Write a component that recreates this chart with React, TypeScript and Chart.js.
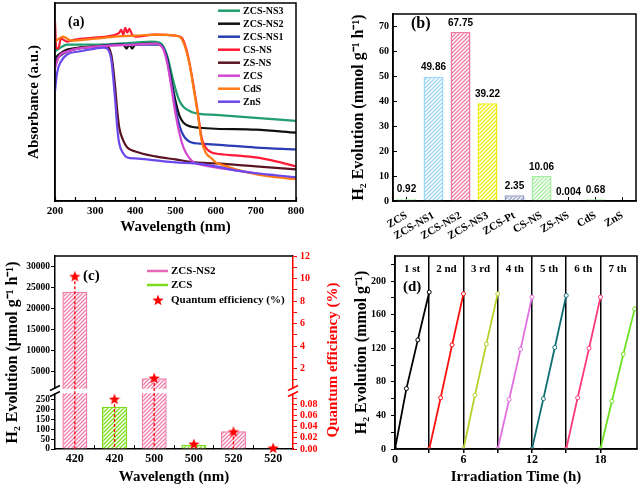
import React, { useEffect, useRef } from 'react';
import { Chart, registerables, LinearScale } from 'chart.js';

Chart.register(...registerables);

const SERIF = '"Liberation Serif", "Times New Roman", Times, serif';
const SANS = '"Liberation Sans", Arial, sans-serif';
Chart.defaults.font.family = SERIF;
Chart.defaults.color = '#000';

// ---------------- Panel (a): UV-vis absorbance ----------------
const absNames = ['ZCS-NS3', 'ZCS-NS2', 'ZCS-NS1', 'CS-NS', 'ZS-NS', 'ZCS', 'CdS', 'ZnS'];
const absColors = ['#1f9e6e', '#111111', '#2a3db4', '#ff1a35', '#5a1422', '#d448d0', '#ff7a10', '#6a48ec'];
const absNS3 = [[200,1.51],[210,1.54],[230,1.58],[300,1.58],[400,1.60],[440,1.61],[460,1.60],[470,1.56],[480,1.46],[490,1.29],[500,1.13],[510,1.01],[520,0.95],[540,0.90],[560,0.88],[600,0.87],[700,0.84],[800,0.81]];
const absNS2 = [[200,1.44],[210,1.48],[230,1.53],[300,1.56],[350,1.58],[370,1.58],[378,1.54],[385,1.58],[392,1.54],[400,1.58],[440,1.59],[460,1.58],[470,1.54],[480,1.43],[490,1.21],[500,1.01],[510,0.86],[520,0.79],[540,0.75],[560,0.74],[600,0.73],[700,0.72],[800,0.69]];
const absNS1 = [[200,1.43],[230,1.51],[300,1.56],[400,1.58],[460,1.58],[470,1.54],[480,1.41],[490,1.18],[500,0.94],[510,0.76],[520,0.66],[540,0.59],[560,0.58],[600,0.57],[700,0.54],[800,0.52]];
const absCSNS = [[200,1.81],[203,1.55],[208,1.54],[215,1.64],[230,1.61],[250,1.63],[300,1.65],[350,1.68],[360,1.70],[365,1.73],[370,1.68],[375,1.75],[380,1.70],[385,1.74],[392,1.68],[400,1.66],[450,1.68],[500,1.67],[515,1.65],[525,1.56],[535,1.39],[545,1.16],[555,0.91],[565,0.64],[575,0.54],[590,0.49],[600,0.48],[620,0.47],[650,0.46],[700,0.44],[750,0.40],[800,0.35]];
const absZSNS = [[200,1.38],[210,1.46],[230,1.51],[300,1.56],[330,1.56],[340,1.48],[345,1.34],[350,1.14],[355,0.91],[360,0.74],[370,0.61],[380,0.54],[400,0.50],[450,0.45],[500,0.42],[550,0.39],[600,0.38],[700,0.35],[800,0.32]];
const absZCS = [[200,1.34],[210,1.46],[230,1.51],[300,1.56],[400,1.58],[450,1.59],[460,1.58],[470,1.53],[480,1.38],[490,1.14],[500,0.88],[510,0.68],[520,0.54],[530,0.46],[540,0.41],[550,0.38],[560,0.37],[600,0.34],[650,0.31],[700,0.28],[750,0.25],[800,0.23]];
const absCdS = [[200,1.61],[210,1.64],[220,1.66],[240,1.62],[300,1.64],[350,1.66],[400,1.67],[450,1.68],[500,1.67],[515,1.64],[525,1.54],[535,1.38],[545,1.14],[555,0.89],[565,0.61],[575,0.49],[590,0.43],[600,0.39],[620,0.36],[650,0.32],[700,0.27],[750,0.24],[800,0.22]];
const absZnS = [[200,1.11],[205,1.29],[215,1.41],[230,1.48],[260,1.51],[300,1.54],[320,1.55],[330,1.54],[340,1.43],[345,1.24],[350,1.01],[355,0.74],[360,0.58],[370,0.48],[380,0.44],[400,0.43],[450,0.41],[500,0.39],[550,0.38],[600,0.35],[650,0.31],[700,0.28],[750,0.26],[800,0.24]];
const absSeries = [absNS3, absNS2, absNS1, absCSNS, absZSNS, absZCS, absCdS, absZnS];
const absXTicks = [200, 250, 300, 350, 400, 450, 500, 550, 600, 650, 700, 750, 800];

// ---------------- Panel (b): H2 evolution rates ----------------
const catalysts = ['ZCS', 'ZCS-NS1', 'ZCS-NS2', 'ZCS-NS3', 'ZCS-Pt', 'CS-NS', 'ZS-NS', 'CdS', 'ZnS'];
const h2Rates = [0.92, 49.86, 67.75, 39.22, 2.35, 10.06, 0.004, 0.68, 0];
const rateLabels = ['0.92', '49.86', '67.75', '39.22', '2.35', '10.06', '0.004', '0.68', ''];
const rateColors = ['#a6eea0', '#9fd6f6', '#f07ca2', '#eeee10', '#98a0c6', '#a6eea0', '#a6eea0', '#a6eea0', '#a6eea0'];
const rateYTicks = [0, 10, 20, 30, 40, 50, 60, 70];

// ---------------- Panel (c): wavelength dependence ----------------
const qeWavelengths = ['420', '420', '500', '500', '520', '520'];
const ns2Evolution = [24000, null, 3400, null, 90, null];
const zcsEvolution = [null, 215, null, 22, null, 2];
const quantumEff = [10.2, 0.089, 1.16, 0.009, 0.031, 0.002];
const leftTicksC = [0, 50, 100, 150, 200, 250, 5000, 10000, 15000, 20000, 25000, 30000];
const rightTicksC = [0, 0.01, 0.02, 0.03, 0.04, 0.05, 0.06, 0.07, 0.08, 0.09, 1, 2, 3, 4, 5, 6, 7, 8, 9, 10, 11, 12];

// ---------------- Panel (d): cycling ----------------
const cycleNames = ['1 st', '2 nd', '3 rd', '4 th', '5 th', '6 th', '7 th'];
const cycleColors = ['#000000', '#ff1010', '#b4d42a', '#e070e0', '#0f6e72', '#ff3a78', '#6ee022'];
const cycle1 = [[0, 0], [1, 72], [2, 130], [3, 187]];
const cycle2 = [[3, 0], [4, 61], [5, 124], [6, 185]];
const cycle3 = [[6, 0], [7, 64], [8, 125], [9, 185]];
const cycle4 = [[9, 0], [10, 59], [11, 119], [12, 181]];
const cycle5 = [[12, 0], [13, 60], [14, 121], [15, 183]];
const cycle6 = [[15, 0], [16, 61], [17, 120], [18, 181]];
const cycle7 = [[18, 0], [19, 57], [20, 113], [21, 167]];
const cycles = [cycle1, cycle2, cycle3, cycle4, cycle5, cycle6, cycle7];
const cycleXTicks = [0, 3, 6, 9, 12, 15, 18];
const cycleYTicks = [0, 20, 40, 60, 80, 100, 120, 140, 160, 180, 200, 220];

// ---------------- helpers ----------------
const bf = (size: number, family = SERIF) => ({ family, size, weight: 'bold' as const });
const BORDER = { color: '#000', width: 1.5 };

function hatch(color: string) {
  const c = document.createElement('canvas');
  c.width = 4; c.height = 4;
  const g = c.getContext('2d')!;
  g.fillStyle = '#fff';
  g.fillRect(0, 0, 4, 4);
  g.strokeStyle = color;
  g.lineWidth = 1.3;
  g.beginPath();
  g.moveTo(0, 4); g.lineTo(4, 0);
  g.moveTo(-1, 1); g.lineTo(1, -1);
  g.moveTo(3, 5); g.lineTo(5, 3);
  g.stroke();
  return g.createPattern(c, 'repeat')!;
}

function makeStar(size: number, color: string) {
  const c = document.createElement('canvas');
  c.width = size; c.height = size;
  const g = c.getContext('2d')!;
  const cx = size / 2, cy = size / 2 + 0.5, R = size / 2, r = R * 0.42;
  g.beginPath();
  for (let k = 0; k < 10; k++) {
    const ang = -Math.PI / 2 + (k * Math.PI) / 5;
    const rad = k % 2 === 0 ? R : r;
    const px = cx + rad * Math.cos(ang), py = cy + rad * Math.sin(ang);
    if (k === 0) g.moveTo(px, py); else g.lineTo(px, py);
  }
  g.closePath();
  g.fillStyle = color;
  g.fill();
  return c;
}

type Brk = { lowMax: number; highMin: number; highMax: number; lowFrac: number; gapFrac: number; ticks: number[] };
const BRK_L: Brk = { lowMax: 280, highMin: 1070, highMax: 32500, lowFrac: 0.285, gapFrac: 0.031, ticks: leftTicksC };
const BRK_R: Brk = { lowMax: 0.098, highMin: 0.27, highMax: 12, lowFrac: 0.285, gapFrac: 0.031, ticks: rightTicksC };

function makeBrokenScale(scaleId: string, brk: Brk) {
  return class BrokenScale extends LinearScale {
    static id = scaleId;
    static defaults = LinearScale.defaults;
    determineDataLimits() { this.min = 0; this.max = brk.highMax; }
    buildTicks() { return brk.ticks.map((v) => ({ value: v })); }
    getPixelForValue(v: any) {
      if (v === null || v === undefined || isNaN(v)) return NaN;
      const H = this.bottom - this.top;
      const lowH = H * brk.lowFrac, gapH = H * brk.gapFrac, highH = H - lowH - gapH;
      if (v <= brk.lowMax) return this.bottom - (v / brk.lowMax) * lowH;
      if (v < brk.highMin) return this.bottom - lowH - (gapH * (v - brk.lowMax)) / (brk.highMin - brk.lowMax);
      return this.bottom - lowH - gapH - ((v - brk.highMin) / (brk.highMax - brk.highMin)) * highH;
    }
    getPixelForTick(i: number) {
      const t = this.ticks[i];
      return t ? this.getPixelForValue(t.value) : null;
    }
    getValueForPixel(p: number) {
      const H = this.bottom - this.top;
      const lowH = H * brk.lowFrac, gapH = H * brk.gapFrac, highH = H - lowH - gapH;
      const d = this.bottom - p;
      if (d <= lowH) return (d / lowH) * brk.lowMax;
      if (d <= lowH + gapH) return brk.lowMax + ((d - lowH) / gapH) * (brk.highMin - brk.lowMax);
      return brk.highMin + ((d - lowH - gapH) / highH) * (brk.highMax - brk.highMin);
    }
  };
}
const BrokenLeft = makeBrokenScale('brokenLeft', BRK_L);
const BrokenRight = makeBrokenScale('brokenRight', BRK_R);
Chart.register(BrokenLeft as any, BrokenRight as any);

const framePlugin = {
  id: 'frame',
  afterDraw(chart: any) {
    const { ctx, chartArea: a } = chart;
    ctx.save();
    ctx.strokeStyle = '#000';
    ctx.lineWidth = 1.5;
    ctx.strokeRect(a.left, a.top, a.right - a.left, a.bottom - a.top);
    ctx.restore();
  },
};

function textPlugin(id: string, draw: (chart: any, ctx: CanvasRenderingContext2D) => void) {
  return {
    id,
    afterDraw(chart: any) {
      const ctx = chart.ctx;
      ctx.save();
      draw(chart, ctx);
      ctx.restore();
    },
  };
}

const baseOptions = {
  responsive: false,
  animation: false as const,
  events: [] as any[],
};

// ---------------- configs ----------------
function configA(): any {
  return {
    type: 'line',
    data: {
      datasets: absSeries.map((d, i) => ({
        label: absNames[i],
        data: d.map(([x, y]) => ({ x, y })),
        borderColor: absColors[i],
        borderWidth: 2.2,
        pointRadius: 0,
        cubicInterpolationMode: 'monotone',
        fill: false,
        order: -i,
      })),
    },
    options: {
      ...baseOptions,
      layout: { padding: { left: 0, top: 3, right: 25, bottom: 0 } },
      plugins: { legend: { display: false }, tooltip: { enabled: false } },
      scales: {
        x: {
          type: 'linear', min: 200, max: 800,
          afterBuildTicks: (s: any) => { s.ticks = absXTicks.map((v) => ({ value: v })); },
          afterFit: (s: any) => { s.height = 43; },
          ticks: { font: bf(11), color: '#000', padding: 8, autoSkip: false, maxRotation: 0,
            callback: (v: number) => (v % 100 === 0 ? String(v) : '') },
          grid: { drawOnChartArea: false, tickLength: -4, color: '#000', tickWidth: 1.2 },
          border: BORDER,
          title: { display: true, text: 'Wavelength (nm)', font: bf(15), color: '#000', padding: { top: 0, bottom: 8 } },
        },
        y: {
          type: 'linear', min: 0, max: 2,
          afterFit: (s: any) => { s.width = 55; },
          ticks: { display: false },
          grid: { display: false },
          border: BORDER,
          title: { display: true, text: 'Absorbance (a.u.)', font: bf(15), color: '#000', padding: { top: 25, bottom: 0 } },
        },
      },
    },
    plugins: [
      framePlugin,
      textPlugin('legendA', (chart, ctx) => {
        ctx.textBaseline = 'middle';
        ctx.textAlign = 'left';
        ctx.font = `bold 10px ${SERIF}`;
        absNames.forEach((name, i) => {
          const y = 10.7 + i * 13;
          ctx.strokeStyle = absColors[i];
          ctx.lineWidth = 2.5;
          ctx.beginPath(); ctx.moveTo(218, y); ctx.lineTo(240, y); ctx.stroke();
          ctx.fillStyle = '#000';
          ctx.fillText(name, 243, y + 0.5);
        });
        ctx.font = `bold 14px ${SERIF}`;
        ctx.fillText('(a)', 68, 22);
      }),
    ],
  };
}

function configB(): any {
  return {
    type: 'bar',
    data: {
      labels: catalysts,
      datasets: [{
        data: h2Rates,
        backgroundColor: rateColors.map((c) => hatch(c)),
        borderColor: rateColors,
        borderWidth: 1.5,
        barPercentage: 0.74,
        categoryPercentage: 1,
      }],
    },
    options: {
      ...baseOptions,
      layout: { padding: { left: 0, top: 3, right: 6, bottom: 0 } },
      plugins: { legend: { display: false }, tooltip: { enabled: false } },
      scales: {
        x: {
          afterFit: (s: any) => { s.height = 43; },
          ticks: { font: bf(11), color: '#000', minRotation: 30, maxRotation: 30, autoSkip: false, padding: 12 },
          grid: { drawOnChartArea: false, tickLength: -4, offset: false, color: '#000' },
          border: BORDER,
        },
        y: {
          min: 0, max: 75,
          afterBuildTicks: (s: any) => { s.ticks = rateYTicks.map((v) => ({ value: v })); },
          afterFit: (s: any) => { s.width = 72; },
          ticks: { font: bf(10), color: '#000', padding: 8 },
          grid: { drawOnChartArea: false, tickLength: -4, color: '#000' },
          border: BORDER,
          title: { display: true, text: 'H₂ Evolution (mmol g⁻¹ h⁻¹)', font: bf(16), color: '#000', padding: { top: 28, bottom: 0 } },
        },
      },
    },
    plugins: [
      framePlugin,
      textPlugin('valuesB', (chart, ctx) => {
        const meta = chart.getDatasetMeta(0);
        ctx.textAlign = 'center';
        ctx.textBaseline = 'middle';
        ctx.fillStyle = '#000';
        ctx.font = `bold 10px ${SANS}`;
        meta.data.forEach((bar: any, i: number) => {
          if (rateLabels[i]) ctx.fillText(rateLabels[i], bar.x, bar.y - 9);
        });
        ctx.textAlign = 'left';
        ctx.font = `bold 16px ${SERIF}`;
        ctx.fillText('(b)', 90, 24);
      }),
    ],
  };
}

function configC(): any {
  const star = makeStar(12, '#ff0000');
  const pink = '#f07ca8';
  const green = '#7cdc1c';
  return {
    type: 'bar',
    data: {
      labels: qeWavelengths,
      datasets: [
        { label: 'ZCS-NS2', data: ns2Evolution, backgroundColor: hatch(pink), borderColor: pink, borderWidth: 1.5,
          yAxisID: 'yL', barPercentage: 0.63, categoryPercentage: 1, skipNull: true, order: 1 },
        { label: 'ZCS', data: zcsEvolution, backgroundColor: hatch(green), borderColor: green, borderWidth: 1.5,
          yAxisID: 'yL', barPercentage: 0.63, categoryPercentage: 1, skipNull: true, order: 1 },
        { type: 'line', label: 'Quantum efficiency (%)', data: quantumEff, yAxisID: 'yR', showLine: false,
          pointStyle: star, pointRadius: 6, order: 0 },
      ],
    },
    options: {
      ...baseOptions,
      layout: { padding: { left: 0, top: 12, right: 0, bottom: 0 } },
      plugins: { legend: { display: false }, tooltip: { enabled: false } },
      scales: {
        x: {
          afterFit: (s: any) => { s.height = 39; },
          ticks: { font: bf(12), color: '#000', padding: 7, maxRotation: 0, autoSkip: false },
          grid: { drawOnChartArea: false, tickLength: -4, color: '#000' },
          border: BORDER,
          title: { display: true, text: 'Wavelength (nm)', font: bf(15), color: '#000', padding: { top: 0, bottom: 2 } },
        },
        yL: {
          type: 'brokenLeft', axis: 'y', position: 'left',
          afterFit: (s: any) => { s.width = 55; },
          ticks: { font: bf(9.5), color: '#000', padding: 1, autoSkip: false, callback: (v: number) => String(v) },
          grid: { drawOnChartArea: false, tickLength: 4, color: '#000' },
          border: BORDER,
          title: { display: true, text: 'H₂ Evolution (μmol g⁻¹ h⁻¹)', font: bf(16), color: '#000', padding: { top: 3, bottom: 0 } },
        },
        yR: {
          type: 'brokenRight', axis: 'y', position: 'right',
          afterFit: (s: any) => { s.width = 52; },
          ticks: { font: bf(10), color: '#ff0000', padding: 3, autoSkip: false,
            callback: (v: number) => {
              if (v >= 1) return v % 2 === 0 ? String(v) : '';
              return Math.round(v * 100) % 2 === 0 ? v.toFixed(2) : '';
            } },
          grid: { drawOnChartArea: false, tickLength: 4, color: '#ff0000' },
          border: { color: '#ff0000', width: 1.5 },
        },
      },
    },
    plugins: [
      {
        id: 'breakC',
        beforeDatasetDraw(chart: any, args: any) {
          if (args.index !== 2) return;
          const { ctx, chartArea: a } = chart;
          const yL = chart.scales.yL;
          const gTop = yL.getPixelForValue(BRK_L.highMin);
          const gBot = yL.getPixelForValue(BRK_L.lowMax);
          ctx.save();
          ctx.fillStyle = '#fff';
          ctx.fillRect(a.left - 7, gTop + 0.8, a.right - a.left + 14, gBot - gTop - 1.6);
          const mark = (x: number, y: number, color: string) => {
            ctx.strokeStyle = color; ctx.lineWidth = 1.5;
            ctx.beginPath(); ctx.moveTo(x - 5, y + 2.5); ctx.lineTo(x + 5, y - 2.5); ctx.stroke();
          };
          mark(a.left, gTop, '#000'); mark(a.left, gBot, '#000');
          mark(a.right, gTop, '#ff0000'); mark(a.right, gBot, '#ff0000');
          const meta = chart.getDatasetMeta(2);
          ctx.setLineDash([3, 2]);
          ctx.strokeStyle = '#ff0000';
          ctx.lineWidth = 1.3;
          meta.data.forEach((pt: any) => {
            ctx.beginPath(); ctx.moveTo(pt.x, pt.y); ctx.lineTo(pt.x, a.bottom); ctx.stroke();
          });
          ctx.restore();
        },
      },
      textPlugin('legendC', (chart, ctx) => {
        const a = chart.chartArea;
        ctx.strokeStyle = '#000'; ctx.lineWidth = 1.5;
        ctx.beginPath(); ctx.moveTo(a.left, a.top); ctx.lineTo(a.right, a.top); ctx.stroke();
        ctx.textAlign = 'left'; ctx.textBaseline = 'middle';
        ctx.font = `bold 11px ${SERIF}`;
        const rows = [27, 41, 56];
        ctx.lineWidth = 2.5;
        ctx.strokeStyle = '#e468b8';
        ctx.beginPath(); ctx.moveTo(147, rows[0]); ctx.lineTo(168, rows[0]); ctx.stroke();
        ctx.strokeStyle = green;
        ctx.beginPath(); ctx.moveTo(147, rows[1]); ctx.lineTo(168, rows[1]); ctx.stroke();
        ctx.drawImage(star, 152, rows[2] - 6);
        ctx.fillStyle = '#000';
        ctx.fillText('ZCS-NS2', 171, rows[0] + 0.5);
        ctx.fillText('ZCS', 171, rows[1] + 0.5);
        ctx.fillText('Quantum efficiency (%)', 171, rows[2] + 0.5);
        ctx.font = `bold 15px ${SERIF}`;
        ctx.fillText('(c)', 83, 32);
        ctx.save();
        ctx.translate(333, 116);
        ctx.rotate(-Math.PI / 2);
        ctx.textAlign = 'center';
        ctx.fillStyle = '#ff0000';
        ctx.font = `bold 15px ${SERIF}`;
        ctx.fillText('Quantum efficiency (%)', 0, 0);
        ctx.restore();
      }),
    ],
  };
}

function configD(): any {
  return {
    type: 'line',
    data: {
      datasets: cycles.map((c, i) => ({
        label: cycleNames[i],
        data: c.map(([x, y]) => ({ x, y })),
        borderColor: cycleColors[i],
        borderWidth: 1.8,
        pointRadius: 2,
        pointBorderWidth: 1,
        pointBackgroundColor: '#fff',
        pointBorderColor: cycleColors[i],
        fill: false,
      })),
    },
    options: {
      ...baseOptions,
      layout: { padding: { left: 0, top: 12, right: 1, bottom: 0 } },
      plugins: { legend: { display: false }, tooltip: { enabled: false } },
      scales: {
        x: {
          type: 'linear', min: 0, max: 21.2,
          afterBuildTicks: (s: any) => { s.ticks = cycleXTicks.map((v) => ({ value: v })); },
          afterFit: (s: any) => { s.height = 39; },
          ticks: { font: bf(12), color: '#000', padding: 0, autoSkip: false, maxRotation: 0,
            callback: (v: number) => (v % 6 === 0 ? String(v) : '') },
          grid: {
            drawOnChartArea: true, tickLength: 4, lineWidth: 1.5,
            color: (ctx: any) => (ctx.tick && ctx.tick.value === 0 ? 'rgba(0,0,0,0)' : '#000'),
          },
          border: BORDER,
          title: { display: true, text: 'Irradiation Time (h)', font: bf(15), color: '#000', padding: { top: 0, bottom: 2 } },
        },
        y: {
          type: 'linear', min: 0, max: 230,
          afterBuildTicks: (s: any) => { s.ticks = cycleYTicks.map((v) => ({ value: v })); },
          afterFit: (s: any) => { s.width = 50; },
          ticks: { font: bf(10), color: '#000', padding: 5, autoSkip: false,
            callback: (v: number) => (v % 40 === 0 ? String(v) : '') },
          grid: { drawOnChartArea: false, tickLength: 4, color: '#000' },
          border: BORDER,
          title: { display: true, text: 'H₂ Evolution (mmol g⁻¹)', font: bf(16), color: '#000', padding: { top: 7, bottom: 0 } },
        },
      },
    },
    plugins: [
      framePlugin,
      textPlugin('labelsD', (chart, ctx) => {
        const xs = chart.scales.x;
        ctx.textAlign = 'center';
        ctx.textBaseline = 'middle';
        ctx.fillStyle = '#000';
        ctx.font = `bold 11px ${SERIF}`;
        cycleNames.forEach((n, i) => ctx.fillText(n, xs.getPixelForValue(cycleXTicks[i] + 1.5), 25));
        ctx.font = `bold 15px ${SERIF}`;
        ctx.fillText('(d)', xs.getPixelForValue(1.5), 43);
      }),
    ],
  };
}

function ChartCanvas(props: { make: () => any; left: number; top: number; width: number; height: number }) {
  const ref = useRef<HTMLCanvasElement>(null);
  useEffect(() => {
    const chart = new Chart(ref.current as HTMLCanvasElement, props.make());
    return () => chart.destroy();
  }, []);
  return (
    <canvas
      ref={ref}
      width={props.width}
      height={props.height}
      style={{ position: 'absolute', left: props.left, top: props.top, width: props.width, height: props.height }}
    />
  );
}

export default function App() {
  return (
    <div style={{ position: 'fixed', left: 0, top: 0, width: 642, height: 488, background: '#fff', overflow: 'hidden' }}>
      <ChartCanvas make={configA} left={0} top={0} width={321} height={244} />
      <ChartCanvas make={configB} left={321} top={0} width={321} height={244} />
      <ChartCanvas make={configC} left={0} top={244} width={345} height={244} />
      <ChartCanvas make={configD} left={345} top={244} width={297} height={244} />
    </div>
  );
}
